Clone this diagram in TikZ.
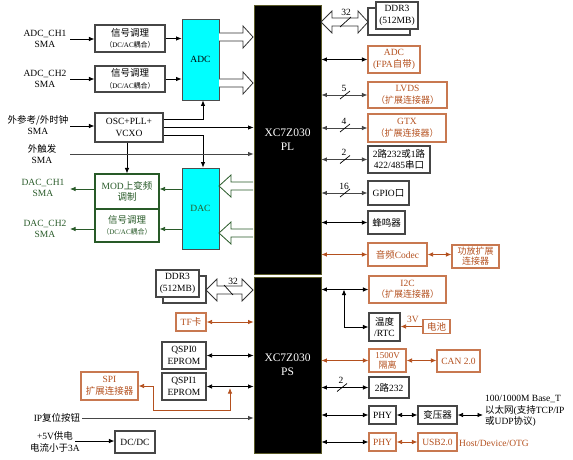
\documentclass[tikz,border=0pt]{standalone}
\usepackage{fontspec}
\setmainfont{Liberation Serif}
\newfontfamily\cjk{Noto Sans CJK SC}
\usetikzlibrary{arrows.meta,calc}
\definecolor{brn}{RGB}{180,80,30}
\definecolor{brnbox}{RGB}{200,120,80}
\definecolor{grn}{RGB}{40,90,40}
\definecolor{olv}{RGB}{90,90,40}
\definecolor{dgray}{RGB}{70,70,70}
\definecolor{cyn}{RGB}{0,255,255}
\newcommand\myfs{\fontsize{9.5}{11.5}\selectfont}
\newcommand\mysm{\fontsize{7}{9}\selectfont}
\newcommand\cj[1]{{\cjk #1}}
\tikzset{
 box/.style={draw=dgray, line width=1.1pt, fill=white, inner sep=0pt, align=center, font=\myfs},
 obox/.style={box, draw=brnbox, text=brn},
 gbox/.style={box, draw=grn, text=grn},
 cbox/.style={box, draw=black!70, fill=cyn, line width=0.8pt},
 chip/.style={draw=olv, fill=black, line width=0.8pt, text=white, align=center, font=\fontsize{11.5}{14}\selectfont, inner sep=0pt},
 lbl/.style={align=center, font=\myfs, inner sep=0pt},
 ar/.style={line width=0.8pt, -{Latex[length=5.5pt,width=4.5pt]}},
 bar/.style={line width=0.8pt, {Latex[length=5.5pt,width=4.5pt]}-{Latex[length=5.5pt,width=4.5pt]}},
 holl/.style={draw=black!80, line width=0.8pt, fill=white, line join=miter},
}
% hollow single arrow: tail x, head base x, tip x, y, colour
\newcommand\hR[5]{\draw[holl, draw=#5] ({#1},{#4-4}) -- ({#2},{#4-4}) -- ({#2},{#4-11}) -- ({#3},{#4}) -- ({#2},{#4+11}) -- ({#2},{#4+4}) -- ({#1},{#4+4});}
% hollow double arrow: tip1, base1, base2, tip2, y
\newcommand\hD[5]{\draw[holl] ({#1},{#5}) -- ({#2},{#5-11}) -- ({#2},{#5-4}) -- ({#3},{#5-4}) -- ({#3},{#5-11}) -- ({#4},{#5}) -- ({#3},{#5+11}) -- ({#3},{#5+4}) -- ({#2},{#5+4}) -- ({#2},{#5+11}) -- cycle;}
% bus slash: x, y, label, name
\newcommand\bus[4]{\draw[line width=0.7pt] ({#1-5},{#2+4}) -- ({#1+5},{#2-4}); \node[font=\myfs, inner sep=0pt] (#4) at ({#1-1},{#2-7}) {#3};}
\begin{document}
\begin{tikzpicture}[x=1pt,y=-1pt]
\useasboundingbox (0,0) rectangle (573,460);
% chip
\node[chip, minimum width=67pt, minimum height=269pt] (pl) at (287.5,139.5) {XC7Z030\\PL};
\node[chip, minimum width=67pt, minimum height=176pt] (ps) at (287.5,365) {XC7Z030\\PS};

% ---------- left labels
\node[lbl] (l1) at (45,39) {ADC\_CH1\\SMA};
\node[lbl] (l2) at (45,79) {ADC\_CH2\\SMA};
\node[lbl] (l3) at (38,125) {\cj{外参考/外时钟}\\SMA};
\node[lbl] (l4) at (42,154) {\cj{外触发}\\SMA};
\node[lbl, text=grn] (l5) at (43,188) {DAC\_CH1\\SMA};
\node[lbl, text=grn] (l6) at (45,229) {DAC\_CH2\\SMA};
\node[lbl] (l7) at (57,418) {IP\cj{复位按钮}};
\node[lbl] (l8) at (55,442) {+5V\cj{供电}\\\cj{电流小于}3A};
\coordinate (a1) at (70,39);
\coordinate (a2) at (70,79);
\coordinate (a3) at (70,126);
\coordinate (a4) at (70,154);
\coordinate (a5) at (70,189);
\coordinate (a6) at (70,229);
\coordinate (a7) at (82,418);
\coordinate (a8) at (75,441);

% ---------- left boxes
\node[box, minimum width=70pt, minimum height=27pt] (sc1) at (130,38.5) {\cj{信号调理}\\{\mysm\cj{（}DC/AC\cj{耦合）}}};
\node[box, minimum width=70pt, minimum height=26pt] (sc2) at (130,79) {\cj{信号调理}\\{\mysm\cj{（}DC/AC\cj{耦合）}}};
\node[cbox, minimum width=37pt, minimum height=81pt] (adc) at (200.5,59.5) {ADC};
\node[box, minimum width=68pt, minimum height=29pt] (osc) at (129,127.5) {OSC+PLL+\\VCXO};
\node[cbox, minimum width=37pt, minimum height=81pt, text=grn] (dac) at (200.5,208.5) {DAC};
\node[gbox, minimum width=64pt, minimum height=35pt] (mod) at (127,191.5) {MOD\cj{上变频}\\\cj{调制}};
\node[gbox, minimum width=64pt, minimum height=33pt] (sc3) at (127,225.5) {\cj{信号调理}\\{\mysm\cj{（}DC/AC\cj{耦合）}}};

\draw[ar] (a1) -- (a1 -| sc1.west);
\draw[ar] (sc1.east) -- (sc1.east -| adc.west);
\draw[ar] (a2) -- (a2 -| sc2.west);
\draw[ar] (sc2.east) -- (sc2.east -| adc.west);
\draw[ar] (a3) -- (a3 -| osc.west);
\draw[ar] (osc.east) -- (osc.east -| pl.west);
\draw[ar] ([yshift=8pt]osc.east) -| ([xshift=2.5pt]adc.south);
\draw[ar] ([yshift=-8pt]osc.east) -| ([xshift=2.5pt]dac.north);
\draw[ar] (osc.south -| mod.north) -- (mod.north);
\draw[ar, draw=dgray] (a4) -- (a4 -| pl.west);
\draw[ar, grn] (dac.west |- a5) -- (mod.east |- a5);
\draw[ar, grn] (mod.west |- a5) -- (a5);
\draw[ar, grn] (dac.west |- a6) -- (sc3.east |- a6);
\draw[ar, grn] (sc3.west |- a6) -- (a6);

\hR{219}{243}{253}{37}{black!80}
\hR{219}{243}{253}{83}{black!80}
\hR{253}{231}{219}{186}{grn}
\hR{253}{231}{219}{233}{grn}

% ---------- right PL
\node[box, minimum width=42pt, minimum height=27pt] (ddrAs) at (389,21.5) {};
\node[box, minimum width=42pt, minimum height=27pt] (ddrA) at (397,15.5) {DDR3\\(512MB)};
\hD{321}{332}{358}{368}{22}
\draw[line width=0.7pt] (340,27) -- (351,17);
\node[font=\myfs, inner sep=0pt] (b32a) at (346,12) {32};

\node[obox, minimum width=52pt, minimum height=27pt] (adcf) at (394,59.5) {ADC\\(FPA\cj{自带})};
\node[obox, minimum width=79pt, minimum height=26pt] (lvds) at (407.5,95) {LVDS\\{\fontsize{9}{11}\selectfont\cj{（扩展连接器）}}};
\node[obox, minimum width=78pt, minimum height=28pt] (gtx) at (407,128) {GTX\\{\fontsize{9}{11}\selectfont\cj{（扩展连接器）}}};
\node[box, minimum width=62pt, minimum height=27pt] (uart) at (399,159.5) {2\cj{路}232\cj{或}1\cj{路}\\422/485\cj{串口}};
\node[box, minimum width=41pt, minimum height=24pt] (gpio) at (388.5,193) {GPIO\cj{口}};
\node[box, minimum width=37pt, minimum height=23pt] (buzz) at (386.5,222.5) {\cj{蜂鸣器}};
\node[obox, minimum width=59pt, minimum height=23pt] (codec) at (397.5,254.5) {\cj{音频}Codec};
\node[obox, minimum width=47pt, minimum height=23pt, font=\fontsize{9}{10}\selectfont] (amp) at (475.5,256.5) {\cj{功放扩展}\\\cj{连接器}};

\draw[bar] (pl.east |- adcf) -- (adcf.west);
\draw[bar, dgray] (pl.east |- lvds) -- (lvds.west);
\bus{345}{95}{5}{b5}
\draw[bar, dgray] (pl.east |- gtx) -- (gtx.west);
\bus{345}{128}{4}{b4}
\draw[bar, dgray] (pl.east |- uart) -- (uart.west);
\bus{345}{159.5}{2}{b2a}
\draw[bar, dgray] (pl.east |- gpio) -- (gpio.west);
\bus{345}{193}{16}{b16}
\draw[bar] (pl.east |- buzz) -- (buzz.west);
\draw[bar, brn] (pl.east |- codec) -- (codec.west);
\draw[bar, brn] (codec.east) -- (amp.west |- codec.east);

% ---------- right PS
\node[obox, minimum width=77pt, minimum height=27pt] (i2c) at (407.5,289.5) {I2C\\{\fontsize{9}{11}\selectfont\cj{（扩展连接器）}}};
\node[box, minimum width=31pt, minimum height=28pt] (rtc) at (384.5,327) {\cj{温度}\\/RTC};
\node[obox, minimum width=27pt, minimum height=14pt] (bat) at (436.5,326.5) {\cj{电池}};
\node[obox, minimum width=37pt, minimum height=23pt, font=\fontsize{9}{10}\selectfont] (iso) at (387.5,360.5) {1500V\\\cj{隔离}};
\node[obox, minimum width=43pt, minimum height=22pt] (can) at (458.5,361) {CAN 2.0};
\node[box, minimum width=40pt, minimum height=21pt] (u232) at (389,387.5) {2\cj{路}232};
\node[box, minimum width=27pt, minimum height=18pt] (phy1) at (382.5,415) {PHY};
\node[box, minimum width=39pt, minimum height=18pt] (xfmr) at (437.5,415) {\cj{变压器}};
\node[lbl, anchor=west, align=left] (eth) at (485,411) {100/1000M Base\_T\\\cj{以太网}(\cj{支持}TCP/IP\\\cj{或}UDP\cj{协议})};
\node[obox, minimum width=27pt, minimum height=18pt] (phy2) at (382.5,442) {PHY};
\node[obox, minimum width=39pt, minimum height=18pt] (usb) at (437.5,442) {USB2.0};
\node[lbl, anchor=west, text=brn] (otg) at (459,443) {Host/Device/OTG};
\node[lbl, text=brn] (v3) at (413,319) {3V};

\draw[bar] (ps.east |- i2c) -- (i2c.west);
\coordinate (j1) at (344,289.5);
\draw[bar] (j1) |- (rtc.west);
\draw[ar, brn] (bat.west) -- (rtc.east |- bat.west);
\draw[bar, brn] (ps.east |- iso) -- (iso.west);
\draw[bar, brn] (iso.east) -- (can.west |- iso.east);
\draw[bar] (ps.east |- u232) -- (u232.west);
\bus{342}{387.5}{2}{b2b}
\draw[bar] (ps.east |- phy1) -- (phy1.west);
\draw[bar] (phy1.east) -- (xfmr.west);
\coordinate (ethend) at (483,415);
\draw[bar] (xfmr.east) -- (ethend);
\draw[bar] (ps.east |- phy2) -- (phy2.west);
\draw[bar, brn] (phy2.east) -- (usb.west);

% ---------- left PS
\node[box, minimum width=43pt, minimum height=27pt] (ddrBs) at (184.5,289.5) {};
\node[box, minimum width=43pt, minimum height=27pt] (ddrB) at (177.5,283.5) {DDR3\\(512MB)};
\hD{206}{217}{242}{253}{290}
\draw[line width=0.7pt] (224,285) -- (233,295);
\node[font=\myfs, inner sep=0pt] (b32b) at (233,281) {32};
\node[obox, minimum width=30pt, minimum height=18pt] (tf) at (191,322) {TF\cj{卡}};
\node[box, minimum width=44pt, minimum height=27pt] (q0) at (184,355.5) {QSPI0\\EPROM};
\node[box, minimum width=44pt, minimum height=27pt] (q1) at (184,386.5) {QSPI1\\EPROM};
\node[obox, minimum width=57pt, minimum height=28pt] (spi) at (109.5,386) {SPI\\\cj{扩展连接器}};
\node[box, minimum width=40pt, minimum height=22pt] (dcdc) at (135,442) {DC/DC};

\draw[bar, brn] (tf.east) -- (ps.west |- tf.east);
\draw[bar] (q0.east) -- (ps.west |- q0.east);
\draw[bar] (q1.east) -- (ps.west |- q1.east);
\coordinate (j2) at (230,388);
\draw[bar, brn] (spi.east) -- ++(14.5,0) |- (230,410) -- (j2);
\draw[ar, dgray] (a7) -- (a7 -| ps.west);
\draw[ar] (a8) -- (a8 -| dcdc.west);
\end{tikzpicture}
\end{document}
